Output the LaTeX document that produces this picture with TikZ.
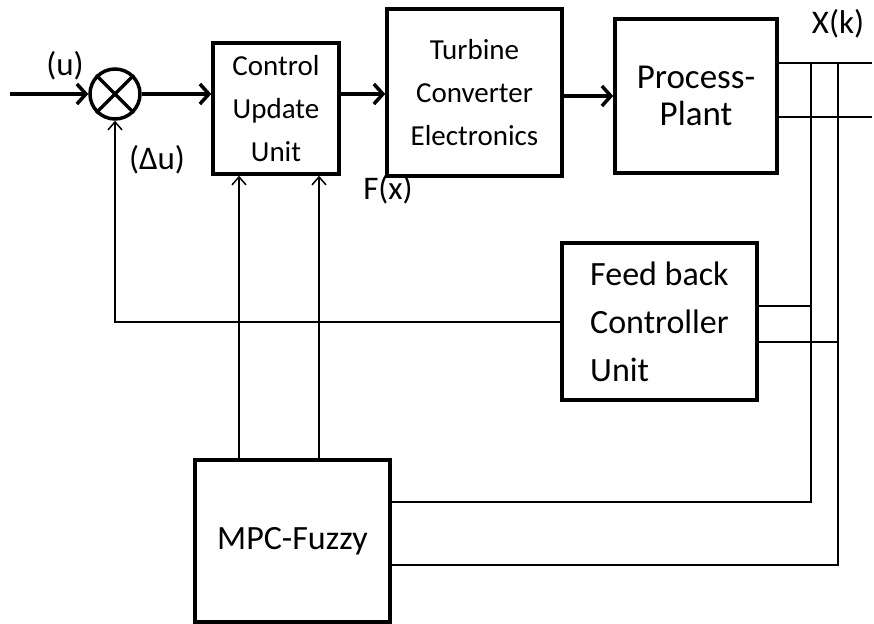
\documentclass[tikz,border=0pt]{standalone}
\usepackage{fontspec}
\setmainfont{Carlito}
\usepackage{tikz}
\usetikzlibrary{arrows.meta, positioning, calc}
\tikzset{
	blk/.style ={rectangle, draw=black, line width=3.5pt, align=center, inner sep=0pt},
	sumj/.style={circle, draw=black, line width=3.5pt, minimum size=50pt, inner sep=0pt},
	sig/.style ={-{Straight Barb[length=9pt, width=20pt]}, line width=3.5pt},
	wire/.style={line width=1.5pt},
	vflow/.style={-{Straight Barb[length=8pt, width=14pt]}, line width=1.5pt},
	lbl/.style ={font=\fontsize{33}{36}\selectfont, inner sep=0pt},
}
\begin{document}
\begin{tikzpicture}[x=1pt, y=-1pt]
	\useasboundingbox (0,0) rectangle (874,623);
	\node[sumj] (sum) at (115,94) {};
	\draw[line width=3.5pt] (sum.north west) -- (sum.south east) (sum.north east) -- (sum.south west);
	\node[blk, minimum width=126pt, minimum height=131pt, font=\fontsize{29}{43}\selectfont] (ctrl) at (276,108.5) {Control\\ Update\\ Unit};
	\node[blk, minimum width=175pt, minimum height=167pt, font=\fontsize{29}{43}\selectfont] (turb) at (474.5,92.5) {Turbine\\ Converter\\ Electronics};
	\node[blk, minimum width=162pt, minimum height=154pt, font=\fontsize{35}{37}\selectfont] (plant) at (696,96) {Process-\\ Plant};
	\node[blk, minimum width=195pt, minimum height=157pt, align=left, font=\fontsize{34}{48}\selectfont] (fbc) at (659.5,321.5) {Feed back\\ Controller\\ Unit};
	\node[blk, minimum width=195pt, minimum height=162pt, font=\fontsize{34}{40}\selectfont] (mpc) at (292.5,541) {MPC-Fuzzy};
	\node[lbl] (ulbl) at (65,66) {(u)};
	\node[lbl] (dulbl) at (157,160) {(Δu)};
	\node[lbl] (fxlbl) at (388,190) {F(x)};
	\node[lbl] (xklbl) at (838,24) {X(k)};
	\coordinate (uin) at (10,94);
	\coordinate (xa) at (872,63); \coordinate (xb) at (872,117);
	\coordinate (va) at (811,0); \coordinate (vb) at (838,0);
	\coordinate (ua) at (239,0); \coordinate (ub) at (319,0);
	\coordinate (ya) at (0,502); \coordinate (yb) at (0,565);
	\coordinate (yc) at (0,306); \coordinate (yd) at (0,342); \coordinate (ye) at (0,322);
	\draw[sig] (uin) -- (sum); \draw[sig] (sum) -- (sum -| ctrl.west);
	\draw[sig] (ctrl.east |- sum) -- (turb.west |- sum); \draw[sig] (turb.east |- plant) -- (plant.west);
	\draw[wire] (plant.east |- xa) -- (xa); \draw[wire] (plant.east |- xb) -- (xb);
	\draw[wire] (mpc.east |- ya) -| (va |- xa); \draw[wire] (mpc.east |- yb) -| (vb |- xa);
	\draw[wire] (fbc.east |- yc) -- (va |- yc); \draw[wire] (fbc.east |- yd) -- (vb |- yd);
	\draw[vflow] (fbc.west |- ye) -| (sum.south);
	\draw[vflow] (mpc.north -| ua) -- (ctrl.south -| ua); \draw[vflow] (mpc.north -| ub) -- (ctrl.south -| ub);
\end{tikzpicture}
\end{document}
